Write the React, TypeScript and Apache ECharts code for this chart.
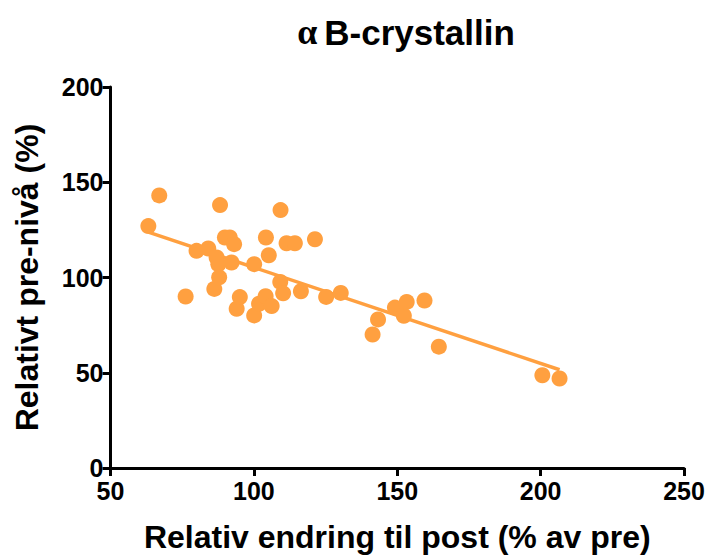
import React, { useEffect, useRef } from "react";
import * as echarts from "echarts";

const titleGreek = "α";
const titleRest = "B-crystallin";
const xAxisName = "Relativ endring til post (% av pre)";
const yAxisName = "Relativt pre-nivå (%)";

const xValues = [
  63.2, 67.0, 76.2, 80.0, 84.1, 86.2, 87.0, 87.6, 87.9, 88.2,
  89.9, 91.6, 92.2, 93.1, 94.0, 95.1, 100.1, 100.1, 101.8, 104.1,
  104.2, 105.2, 106.2, 109.3, 109.2, 110.2, 111.4, 114.3, 116.4, 121.3,
  125.2, 130.3, 141.4, 143.3, 149.2, 152.3, 153.3, 159.5, 164.5, 200.6,
  206.6,
];
const yValues = [
  127.0, 143.1, 90.0, 114.0, 115.2, 94.0, 110.5, 107.0, 100.1, 138.0,
  121.0, 121.0, 107.9, 117.5, 83.6, 89.7, 80.1, 107.0, 86.2, 90.2,
  121.0, 111.7, 85.0, 135.4, 97.7, 91.7, 118.0, 118.0, 92.8, 120.1,
  89.8, 91.9, 70.1, 78.0, 84.2, 79.9, 87.2, 87.9, 63.7, 48.7,
  47.0,
];

const orange = "#FFA040";

function regression(xs: number[], ys: number[]) {
  const n = xs.length;
  const mx = xs.reduce((a, b) => a + b, 0) / n;
  const my = ys.reduce((a, b) => a + b, 0) / n;
  let sxy = 0;
  let sxx = 0;
  for (let i = 0; i < n; i++) {
    sxy += (xs[i] - mx) * (ys[i] - my);
    sxx += (xs[i] - mx) * (xs[i] - mx);
  }
  const slope = sxy / sxx;
  const intercept = my - slope * mx;
  const x0 = Math.min(...xs);
  const x1 = Math.max(...xs);
  return [
    [x0, intercept + slope * x0],
    [x1, intercept + slope * x1],
  ];
}

export default function App() {
  const ref = useRef<HTMLDivElement>(null);
  useEffect(() => {
    if (!ref.current) return;
    const chart = echarts.init(ref.current, undefined, { renderer: "svg" });
    const font = "'Liberation Sans', Arial, sans-serif";
    const axisCommon = {
      axisLine: { show: true, lineStyle: { color: "#000", width: 3 } },
      axisTick: { show: true, length: 8, lineStyle: { color: "#000", width: 3 } },
      splitLine: { show: false },
      nameLocation: "middle" as const,
      nameTextStyle: { color: "#000", fontSize: 32, fontWeight: "bold", fontFamily: font },
    };
    chart.setOption({
      animation: false,
      backgroundColor: "#fff",
      title: {
        text: `{g|${titleGreek}}{b|${titleRest}}`,
        left: 401,
        textAlign: "center",
        top: 9,
        textStyle: {
          rich: {
            g: { color: "#000", fontSize: 36, fontFamily: "'Liberation Serif', serif", padding: [0, 7, 0, 0] },
            b: { color: "#000", fontSize: 35, fontWeight: "bold", fontFamily: font },
          },
        },
      },
      grid: { left: 110.5, right: 27, top: 87, bottom: 88, containLabel: false },
      xAxis: {
        ...axisCommon,
        type: "value",
        min: 50,
        max: 250,
        interval: 50,
        name: xAxisName,
        nameGap: 53,
        axisLabel: { color: "#000", fontSize: 25, fontWeight: "bold", fontFamily: font, margin: 10 },
      },
      yAxis: {
        ...axisCommon,
        type: "value",
        min: 0,
        max: 200,
        interval: 50,
        name: yAxisName,
        nameGap: 68,
        axisLabel: { color: "#000", fontSize: 25, fontWeight: "bold", fontFamily: font, margin: 7 },
      },
      series: [
        {
          type: "line",
          data: regression(xValues, yValues),
          showSymbol: false,
          symbol: "none",
          lineStyle: { color: orange, width: 3.5 },
          z: 1,
        },
        {
          type: "scatter",
          data: xValues.map((x, i) => [x, yValues[i]]),
          symbolSize: 16,
          itemStyle: { color: orange, opacity: 1 },
          z: 2,
        },
      ],
    });
    return () => chart.dispose();
  }, []);
  return <div ref={ref} style={{ width: 711, height: 558, position: "absolute", left: 0, top: 0 }} />;
}
